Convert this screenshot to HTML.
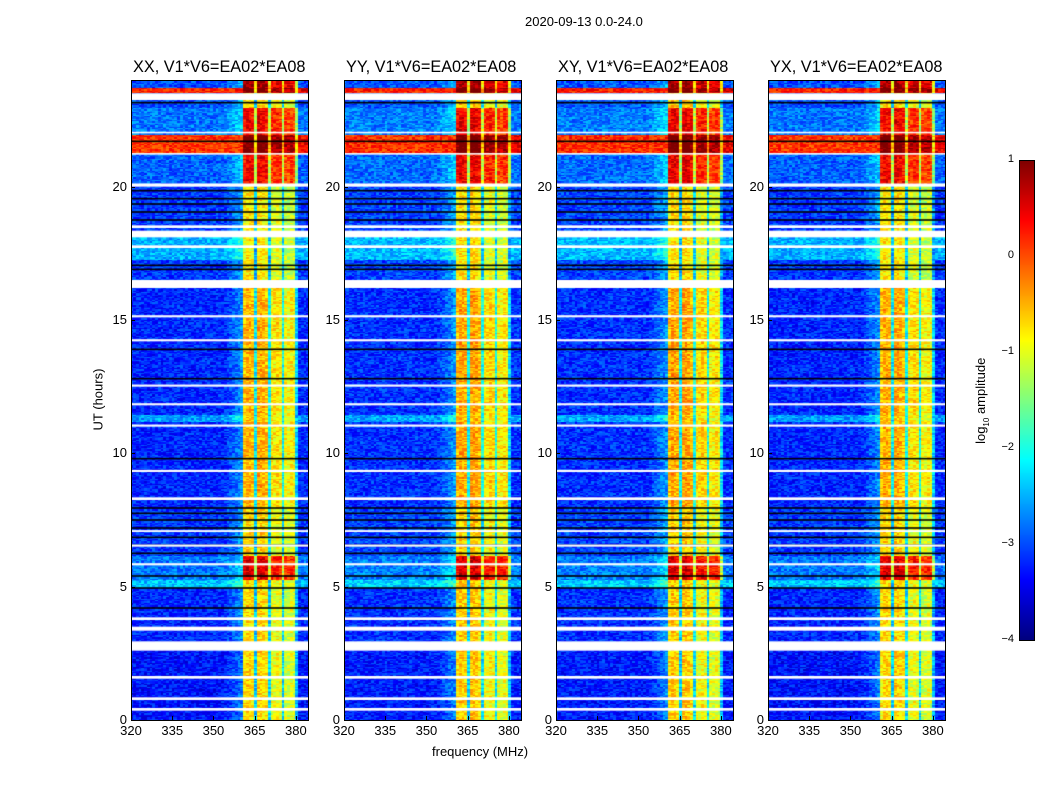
<!DOCTYPE html>
<html><head><meta charset="utf-8">
<style>
body{margin:0;background:#fff;font-family:"Liberation Sans",sans-serif;}
#root{position:relative;width:1050px;height:800px;overflow:hidden;background:#fff;}
.t{position:absolute;white-space:nowrap;color:#000;}
canvas{position:absolute;}
.frame{position:absolute;border:1px solid #000;box-sizing:border-box;}
</style></head>
<body>
<div id="root">
<div class="t" style="left:525px;top:14px;font-size:13px;">2020-09-13 0.0-24.0</div>
<div class="t" style="left:432px;top:744px;font-size:13px;">frequency (MHz)</div>
<div class="t" style="left:56px;top:392px;font-size:13px;transform:rotate(-90deg);transform-origin:center;width:84px;text-align:center;">UT (hours)</div>
<canvas id="cbar" width="15" height="480" style="left:1019px;top:160px;"></canvas>
<div class="frame" style="left:1019px;top:160px;width:16px;height:481px;"></div>
<div class="t" style="left:922px;top:392px;font-size:13px;transform:rotate(-90deg);width:120px;text-align:center;">log<sub style="font-size:8px">10</sub> amplitude</div>
</div>
<script>
// ---- data ----
const panelNames = ["XX, V1*V6=EA02*EA08","YY, V1*V6=EA02*EA08","XY, V1*V6=EA02*EA08","YX, V1*V6=EA02*EA08"];
const panelLeft = [131,344,556,768];
const xTicks = [320,335,350,365,380];
const yTicks = [0,5,10,15,20];
const cbTicks = [1,0,-1,-2,-3,-4];
// time segments (hours): background level and RFI-band level (log10 amp)
const segStart = [0.0, 2.9, 5.0, 5.3, 6.2, 8.0, 11.2, 11.5, 16.5, 17.3, 18.4, 20.1, 21.3, 22.0, 23.0, 23.55, 23.75];
const segEnd   = [2.9, 5.0, 5.3, 6.2, 8.0, 11.2, 11.5, 16.5, 17.3, 18.4, 20.1, 21.3, 22.0, 23.0, 23.55, 23.75, 24.0];
const segBg    = [-3.3,-3.2,-2.4,-2.8,-3.1,-3.2,-2.6,-3.2,-3.1,-2.5,-3.1,-2.9, 0.1,-2.8,-3.0, 0.2,-3.0];
const segBand  = [-0.9,-0.9,-0.9, 0.3,-0.9,-0.7,-0.8,-0.7,-1.0,-1.0,-1.0, 0.2, 0.9, 0.2,-0.9, 0.9, 0.6];
// flagged (white) time ranges
const flagStart = [0.35,0.75,1.55,2.6,3.35,3.75,5.8,6.5,7.05,8.25,9.3,11.0,11.8,12.5,14.2,15.1,16.2,17.7,18.1,18.45,20.0,21.2,22.0,23.25];
const flagEnd   = [0.45,0.85,1.65,2.95,3.5,3.85,5.88,6.58,7.12,8.35,9.38,11.08,11.88,12.58,14.28,15.18,16.5,17.8,18.35,18.55,20.12,21.26,22.06,23.5];
// dark (black) lines
const blackLines = [4.2,4.95,5.4,6.25,6.55,6.85,7.2,7.5,7.75,7.95,9.8,12.8,13.9,16.9,17.05,18.75,19.05,19.35,19.55,19.85,21.7,23.15];
// RFI band column offsets, 1 MHz steps from 360 to 383
const bandProfile = [-2.0,0.1,0.25,0.2,0.15,-1.5,0.25,0.25,0.2,0.1,-1.4,-0.1,-0.1,0.0,-0.1,-1.4,-0.2,-0.2,-0.1,-0.2,-1.6,-2.6,-2.7,-2.8];
const panelShift = [0.0,0.05,0.05,0.0];

const T0=80,H=640,W=177,FMIN=320,FMAX=384.4;
const xs=f=>(f-FMIN)/(FMAX-FMIN)*W, ys=t=>H-(t/24)*H;
function jet(v){
  const r=Math.min(Math.max(Math.min(4*v-1.5,-4*v+4.5),0),1);
  const g=Math.min(Math.max(Math.min(4*v-0.5,-4*v+3.5),0),1);
  const b=Math.min(Math.max(Math.min(4*v+0.5,-4*v+2.5),0),1);
  return `rgb(${r*255|0},${g*255|0},${b*255|0})`;
}
const col=l=>jet(Math.min(Math.max((l+4)/5,0),1));
function hash(a,b,c){let h=(a*374761393+b*668265263+c*2147483647)|0;h=(h^(h>>>13))*1274126177|0;return ((h^(h>>>16))>>>0)/4294967295;}
function seg(t){for(let k=0;k<segStart.length;k++)if(t>=segStart[k]&&t<segEnd[k])return k;return segStart.length-1;}
const root=document.getElementById('root');
function txt(name,s,x,y,size,extra){const d=document.createElement('div');d.className='t';d.textContent=s;


d.style.cssText=`left:${x}px;top:${y}px;font-size:${size}px;`+(extra||'');root.appendChild(d);return d;}

panelNames.forEach((nm,p)=>{
  const L=panelLeft[p];
  const c=document.createElement('canvas');c.width=W;c.height=H;c.style.left=L+'px';c.style.top=T0+'px';
  
  
  root.appendChild(c);
  const g=c.getContext('2d');
  const dt=0.05;
  for(let i=0;i<24/dt;i++){
    const t=i*dt+dt/2,k=seg(t);
    for(let j=0;j<(FMAX-FMIN);j++){
      const f=FMIN+j+0.5;let v;
      if(f>=361 && f<381){v=segBand[k]+bandProfile[j-40];}
      else {v=segBg[k]; if(f>354&&f<361&&segBg[k]<-1) v+= (f-354)*0.08;
        if(f>=381&&segBg[k]>-1) v+=0.3;}
      v+=panelShift[p]+(hash(i,j,p)-0.5)*0.7;
      g.fillStyle=col(v);
      g.fillRect(Math.floor(xs(FMIN+j)),Math.floor(ys(t+dt/2)),Math.ceil(xs(FMIN+j+1))-Math.floor(xs(FMIN+j))+1,Math.ceil(H*dt/24)+1);
    }
  }
  g.fillStyle='#000';
  blackLines.forEach(t=>g.fillRect(0,ys(t)-0.8,W,1.6));
  g.fillStyle='#fff';
  flagStart.forEach((s,k)=>g.fillRect(0,ys(flagEnd[k]),W,ys(s)-ys(flagEnd[k])));
  const fr=document.createElement('div');fr.className='frame';
  
  
  fr.style.cssText=`left:${L}px;top:${T0}px;width:${W+1}px;height:${H+1}px;`;root.appendChild(fr);
  txt('panel-title',nm,L+2,58,16.3);
  xTicks.forEach(v=>{const x=L+xs(v);txt('x-tick-label',String(v),x-12,723,13,'width:24px;text-align:center;');
    const tk=document.createElement('div');tk.style.cssText=`position:absolute;left:${x}px;top:${T0+H-4}px;width:1px;height:4px;background:#000`;
    
    
    root.appendChild(tk);});
  yTicks.forEach(v=>{const y=T0+ys(v);txt('y-tick-label',String(v),L-30,y-8,13,'width:26px;text-align:right;');
    const tk=document.createElement('div');tk.style.cssText=`position:absolute;left:${L}px;top:${y}px;width:4px;height:1px;background:#000`;
    
    
    root.appendChild(tk);});
});
const cb=document.getElementById('cbar').getContext('2d');
for(let y=0;y<480;y++){cb.fillStyle=jet(1-y/479);cb.fillRect(0,y,15,1);}
cbTicks.forEach(v=>{const y=160+(1-v)/5*480;txt('colorbar-tick-label',(v<0?'\u2212':'')+Math.abs(v),986,y-7,11,'width:28px;text-align:right;');});
</script>
</body></html>
